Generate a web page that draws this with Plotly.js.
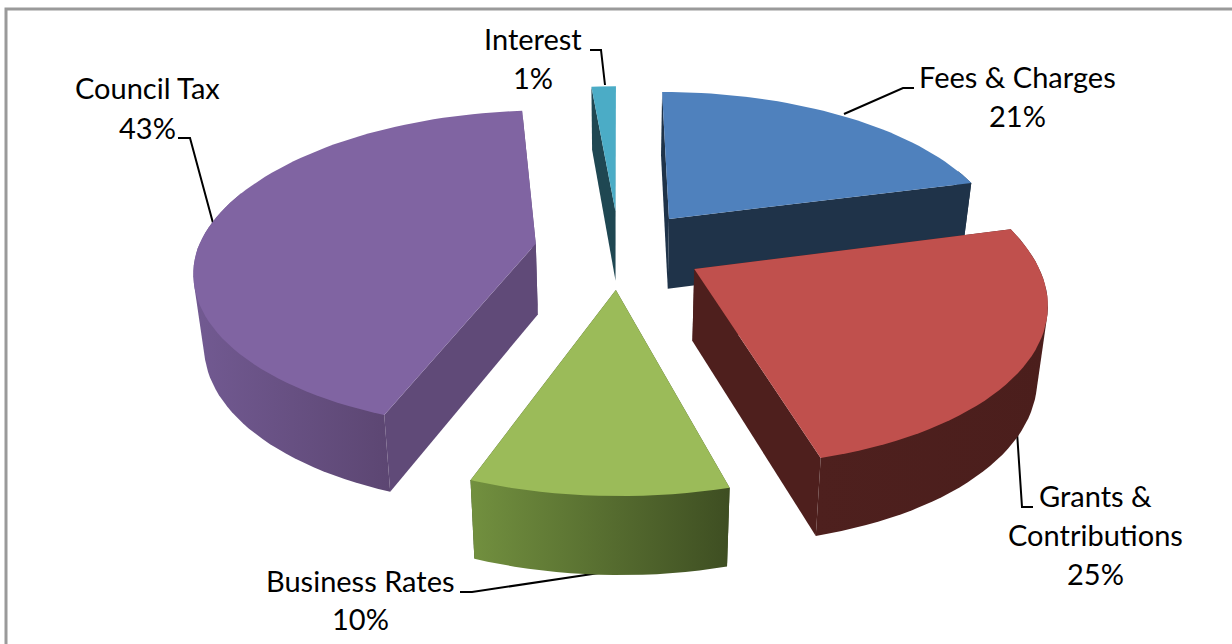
<!DOCTYPE html>
<html>
<head>
<meta charset="utf-8">
<script src="https://cdn.plot.ly/plotly-3.0.1.min.js"></script>
<style>html,body{margin:0;padding:0;background:#fff}#chart{width:1232px;height:644px}</style>
</head>
<body>
<div id="chart"></div>
<script>
// Data (Interest is labelled 1%; its slice reads a little over that)
const categories = ['Fees & Charges', 'Grants & Contributions', 'Business Rates', 'Council Tax', 'Interest'];
const shares = [21, 25, 10, 43, 1.4];

// Style
const topColors = ['#4f81bd', '#c0504d', '#9bbb59', '#8064a2', '#4bacc6'];
const faceColors = ['#1f3349', '#4e1f1d', '#3f5022', '#604a78', '#1f4752'];
const rimFrom = ['#1f3349', '#4e201e', '#72903f', '#725a92', '#1f4752'];
const rimTo = ['#1f3349', '#4b1e1c', '#3e4e22', '#5c4672', '#1f4752'];
const drawOrder = [4, 0, 3, 1, 2];

// Projection of the tilted, exploded pie onto the plot's axes
const CX = 619, CY = 249, RX = 338, RZ = 157, PERSP = 0.165, EXPLODE = 0.25, DEPTH = 71, SHEAR = 5, BASE_SCALE = 0.975;
const project = (X, Z, drop) => {
  const p = 1 / (1 - PERSP * Z);
  return [
    CX + RX * X * p * (drop ? BASE_SCALE : 1) + SHEAR * Math.max(Z, 0),
    CY + RZ * Z * p + (drop ? DEPTH * (1 + 0.09 * Z) : 0)
  ];
};
const rad = d => d * Math.PI / 180;

function wedge(startDeg, endDeg) {
  const mid = rad((startDeg + endDeg) / 2);
  const ox = EXPLODE * Math.sin(mid), oz = -EXPLODE * Math.cos(mid);
  const rim = (deg, drop) => project(ox + Math.sin(rad(deg)), oz - Math.cos(rad(deg)), drop);
  const apex = drop => project(ox, oz, drop);
  const arc = (a, b, drop) => {
    const out = [], n = Math.max(2, Math.ceil(Math.abs(b - a) / 2));
    for (let i = 0; i <= n; i++) out.push(rim(a + (b - a) * i / n, drop));
    return out;
  };
  return {rim, apex, arc};
}
// Outline of the swept rim, so the side wall joins the top face by a tangent
function hull(points) {
  const pts = points.slice().sort((p, q) => p[0] - q[0] || p[1] - q[1]);
  const cross = (o, a, b) => (a[0] - o[0]) * (b[1] - o[1]) - (a[1] - o[1]) * (b[0] - o[0]);
  const half = list => {
    const out = [];
    list.forEach(p => {
      while (out.length > 1 && cross(out[out.length - 2], out[out.length - 1], p) <= 0) out.pop();
      out.push(p);
    });
    out.pop();
    return out;
  };
  return half(pts).concat(half(pts.slice().reverse()));
}
const poly = (pts, name, extra) => Object.assign({
  type: 'scatter', mode: 'lines', x: pts.map(p => p[0]), y: pts.map(p => p[1]),
  fill: 'toself', line: {width: 0}, name, hoverinfo: 'name'
}, extra);

const starts = [];
shares.reduce((acc, v, i) => { starts[i] = acc; return acc + v; }, 0);
const total = shares.reduce((a, b) => a + b, 0);

const traces = [];
drawOrder.forEach(i => {
  const a = starts[i] / total * 360, b = (starts[i] + shares[i]) / total * 360;
  const w = wedge(a, b);
  [a, b].forEach(d => {
    traces.push(poly([w.apex(false), w.rim(d, false), w.rim(d, true), w.apex(true)], categories[i],
      {fillcolor: faceColors[i]}));
  });
  const ra = Math.max(a, 70), rb = Math.min(b, 290);
  if (rb > ra) {
    const outline = hull(w.arc(ra, rb, false).concat(w.arc(rb, ra, true)));
    traces.push(poly(outline.concat([outline[0]]), categories[i], {
      fillgradient: {type: 'horizontal', colorscale: [[0, rimFrom[i]], [1, rimTo[i]]]}
    }));
  }
  traces.push(poly([w.apex(false)].concat(w.arc(a, b, false)), categories[i], {fillcolor: topColors[i]}));
});

// Data labels
const labelLines = [
  [['Fees & Charges', 1017, 76], ['21%', 1017, 115]],
  [['Grants &', 1095, 495], ['Contributions', 1095, 534], ['25%', 1095, 573]],
  [['Business Rates', 360, 580], ['10%', 360, 618]],
  [['Council Tax', 147, 87], ['43%', 147, 127]],
  [['Interest', 533, 38], ['1%', 533, 77]]
];
const annotations = labelLines.flat().map(([text, x, y]) => ({
  text, x, y, xref: 'x', yref: 'y', showarrow: false, xanchor: 'center', yanchor: 'middle',
  font: {family: 'Lato, "Open Sans", sans-serif', size: 29, color: '#000'}
}));

const leaders = [
  'M 914 88 L 903 88 L 844 114',
  'M 1033 507 L 1022 507 L 1017 432',
  'M 460 592 L 472 592 L 599 573',
  'M 178 138 L 190 138 L 213 223',
  'M 590 50 L 601 50 L 605 85'
];
const shapes = leaders.map(path => ({type: 'path', path, xref: 'x', yref: 'y', line: {color: '#000', width: 2}, layer: 'below'}));
shapes.push({type: 'path', path: 'M 6 644 L 6 9 L 1232 9', xref: 'x', yref: 'y', line: {color: '#9a9a9a', width: 3}});

const hidden = {visible: false, fixedrange: true, showgrid: false, zeroline: false};
Plotly.newPlot('chart', traces, {
  width: 1232, height: 644,
  margin: {l: 0, r: 0, t: 0, b: 0},
  paper_bgcolor: '#fff', plot_bgcolor: '#fff', showlegend: false,
  xaxis: Object.assign({range: [0, 1232]}, hidden),
  yaxis: Object.assign({range: [644, 0]}, hidden),
  annotations, shapes
}, {displayModeBar: false});
</script>
</body>
</html>
